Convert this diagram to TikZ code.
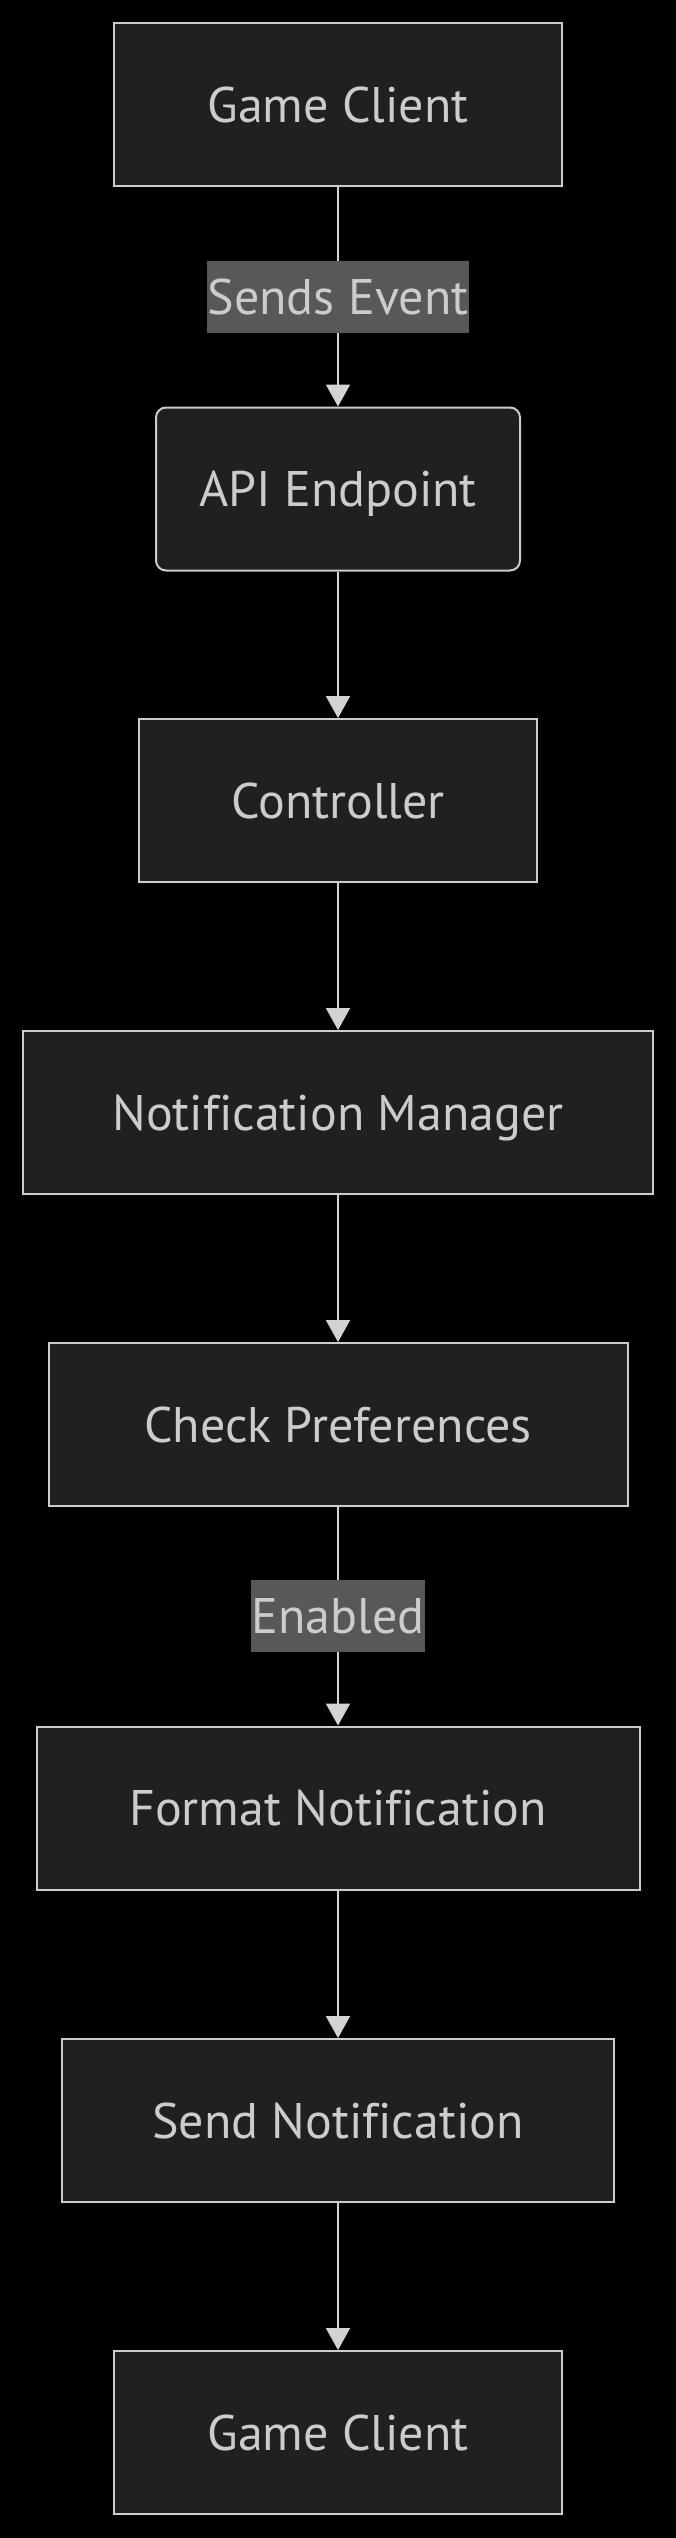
\documentclass[tikz,border=0pt]{standalone}
\usepackage{fontspec}
\setmainfont{PT Sans}[Ligatures=NoCommon]
\usetikzlibrary{arrows.meta}
\definecolor{nodefill}{HTML}{1F2020}
\definecolor{nodeline}{HTML}{CCCCCC}
\definecolor{txt}{HTML}{CCCCCC}
\definecolor{lblfill}{HTML}{585858}
\definecolor{edgecol}{HTML}{D3D3D3}
\begin{document}
\begin{tikzpicture}[x=1pt,y=-1pt,
  lbltext/.style={text=txt, font=\fontsize{50}{60}\selectfont, text height=35pt, text depth=0pt},
  box/.style={lbltext, draw=nodeline, fill=nodefill, line width=2pt, inner sep=0pt, minimum height=163pt},
  elabel/.style={lbltext, fill=lblfill, inner xsep=1pt, inner ysep=0pt, minimum height=72pt},
  flow/.style={draw=edgecol, line width=2pt, -{Triangle[length=22pt,width=24pt]}}]
\fill[black] (0,0) rectangle (676,2538);
\useasboundingbox (0,0) rectangle (676,2538);
\node[box, minimum width=448pt] (gc1) at (338,104.5) {Game Client};
\node[box, minimum width=364pt, rounded corners=10pt] (api) at (338,489) {API Endpoint};
\node[box, minimum width=398pt] (ctrl) at (338,800.5) {Controller};
\node[box, minimum width=630pt] (nm) at (338,1112.5) {Notification Manager};
\node[box, minimum width=579pt] (cp) at (338,1424.5) {Check Preferences};
\node[box, minimum width=603pt] (fn) at (338,1808) {Format Notification};
\node[box, minimum width=552pt] (sn) at (338,2120.5) {Send Notification};
\node[box, minimum width=448pt] (gc2) at (338,2432.5) {Game Client};
\draw[flow] (gc1) -- node[elabel] (l1) {Sends Event} (api);
\draw[flow] (api) -- (ctrl);
\draw[flow] (ctrl) -- (nm);
\draw[flow] (nm) -- (cp);
\draw[flow] (cp) -- node[elabel] (l2) {Enabled} (fn);
\draw[flow] (fn) -- (sn);
\draw[flow] (sn) -- (gc2);
\end{tikzpicture}
\end{document}
